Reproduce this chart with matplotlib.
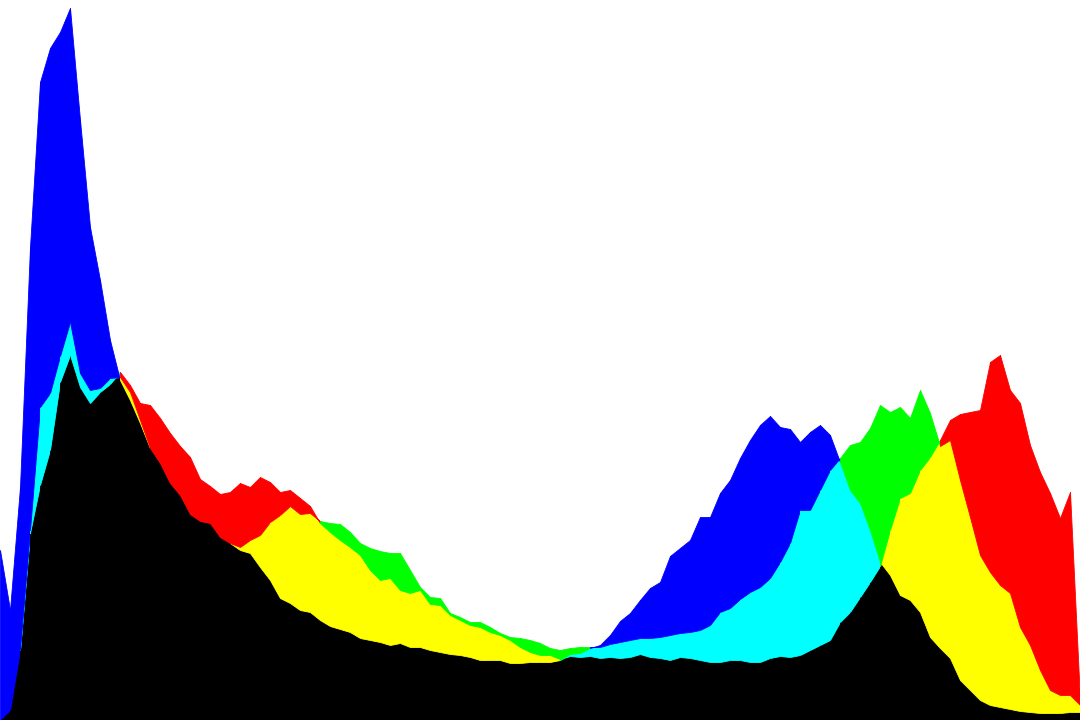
import numpy as np
import matplotlib
matplotlib.use("Agg")
import matplotlib.pyplot as plt

# histogram positions (0..1080 across the picture, every 10 px)
levels = np.arange(0, 1081, 10)

red = [0, 10, 70, 187, 235, 270, 338, 365, 333, 317,
       328, 336, 348, 335, 317, 315, 302, 287, 274, 263,
       241, 234, 226, 228, 237, 233, 243, 238, 228, 230,
       222, 214, 197, 188, 180, 173, 165, 150, 140, 142,
       130, 127, 130, 116, 115, 105, 100, 95, 93, 88,
       85, 80, 73, 68, 65, 65, 61, 64, 63, 64,
       62, 63, 62, 63, 66, 63, 62, 60, 63, 62,
       60, 58, 58, 60, 60, 58, 58, 62, 64, 63,
       65, 70, 75, 80, 98, 108, 123, 138, 154, 190,
       222, 227, 250, 263, 280, 300, 306, 308, 310, 358,
       365, 330, 317, 275, 248, 227, 202, 228, 20]

green = [0, 10, 70, 190, 313, 327, 364, 398, 347, 330,
         332, 342, 343, 328, 300, 272, 257, 237, 225, 206,
         199, 197, 183, 177, 173, 180, 185, 198, 205, 214,
         206, 207, 199, 197, 196, 188, 177, 172, 169, 167,
         167, 150, 133, 123, 122, 107, 103, 98, 98, 93,
         87, 83, 82, 80, 77, 72, 70, 72, 73, 73,
         73, 76, 78, 80, 82, 82, 83, 85, 87, 88,
         90, 95, 108, 112, 121, 128, 133, 142, 158, 177,
         210, 210, 230, 250, 262, 275, 278, 292, 315, 308,
         313, 302, 330, 307, 274, 280, 240, 203, 165, 148,
         135, 127, 93, 75, 50, 30, 25, 25, 15]

blue = [170, 110, 233, 473, 638, 672, 688, 712, 600, 493,
        440, 380, 340, 320, 297, 272, 257, 237, 225, 206,
        199, 197, 183, 177, 170, 167, 153, 140, 122, 117,
        110, 108, 100, 94, 91, 88, 82, 80, 78, 75,
        77, 73, 73, 70, 68, 66, 65, 63, 60, 60,
        60, 57, 57, 58, 58, 58, 60, 66, 67, 72,
        75, 85, 99, 107, 120, 132, 138, 164, 172, 180,
        203, 203, 227, 240, 262, 280, 295, 304, 293, 291,
        278, 288, 295, 285, 258, 230, 217, 190, 158, 145,
        125, 120, 108, 83, 72, 62, 40, 30, 20, 15,
        13, 11, 9, 8, 7, 7, 7, 8, 8]

single = {0: "#ff0000", 1: "#00ff00", 2: "#0000ff"}
pair = {frozenset((0, 1)): "#ffff00",
        frozenset((1, 2)): "#00ffff",
        frozenset((0, 2)): "#ff00ff"}

vals = np.vstack([red, green, blue]).astype(float)

fig = plt.figure(figsize=(10.8, 7.2), dpi=100)
ax = fig.add_axes([0, 0, 1, 1])


def band(xs, y0, y1, col):
    # stroke with the fill colour so neighbouring strips don't leave seams
    ax.fill_between(xs, y0, y1, facecolor=col, edgecolor=col, lw=0.6)


for i in range(len(levels) - 1):
    xs = levels[i:i + 2]
    seg = vals[:, i:i + 2]
    order = np.argsort(seg.mean(axis=1))
    lo, mid, hi = seg[order]
    band(xs, 0, lo, "black")
    if (mid - lo).max() > 0:
        band(xs, lo, mid, pair[frozenset(order[1:])])
    if (hi - mid).max() > 0:
        band(xs, mid, hi, single[order[2]])

ax.set_xlim(0, 1080)
ax.set_ylim(0, 720)
ax.axis("off")

fig.savefig("out.png", dpi=100, facecolor="white")
